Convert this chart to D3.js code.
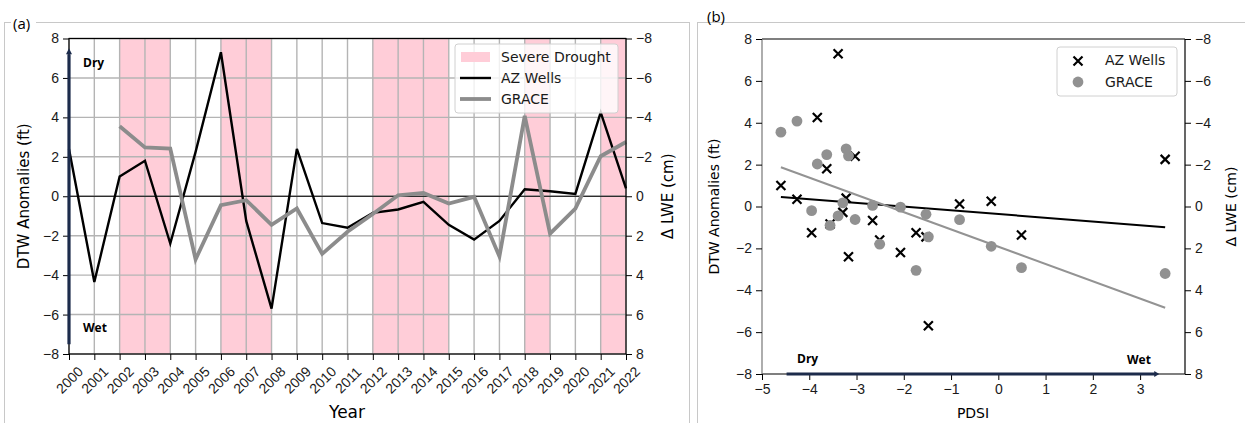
<!DOCTYPE html>
<html>
<head>
<meta charset="utf-8">
<script src="https://cdn.jsdelivr.net/npm/d3@7"></script>
<style>
  body { margin: 0; background: #fff; }
  svg { font-family: "DejaVu Sans", sans-serif; }
</style>
</head>
<body>
<svg id="chart" width="1245" height="423"></svg>
<script>
// values
let years = [2000, 2001, 2002, 2003, 2004, 2005, 2006, 2007, 2008, 2009, 2010, 2011,
  2012, 2013, 2014, 2015, 2016, 2017, 2018, 2019, 2020, 2021, 2022]
let wells = [2.4, -4.35, 1.0, 1.8, -2.4, 2.25, 7.3, -1.25, -5.7, 2.4, -1.36, -1.6,
  -0.84, -0.67, -0.28, -1.45, -2.2, -1.25, 0.35, 0.25, 0.12, 4.25, 0.4]
let grace = [null, null, -3.55, -2.48, -2.42, 3.2, 0.45, 0.2, 1.45, 0.62, 2.92, 1.8,
  0.9, -0.05, -0.17, 0.37, 0.03, 3.05, -4.08, 1.9, 0.63, -2.03, -2.75]
let pdsi = [null, null, -4.6, -3.63, -3.17, 3.53, -3.39, -3.95, -1.48, -3.03, 0.49, -2.51,
  -3.56, -2.66, -3.29, -1.53, -2.07, -1.74, -4.26, -0.15, -0.82, -3.83, -3.22]
let droughtYears = [2002, 2003, 2006, 2007, 2012, 2013, 2014, 2018, 2021]
let yTicks = [-8, -6, -4, -2, 0, 2, 4, 6, 8]
let pdsiTicks = [-5, -4, -3, -2, -1, 0, 1, 2, 3]

const navy = '#1c2b4b'
const grey = '#8c8c8c'
const svg = d3.select('#chart')

function styleAxis (g, size) {
  g.select('.domain').remove()
  g.selectAll('line').attr('stroke', '#000')
  g.selectAll('text').attr('font-size', size).attr('fill', '#1a1a1a')
}

function fit (xs, ys) {
  let mx = d3.mean(xs)
  let my = d3.mean(ys)
  let b = d3.sum(xs.map((x, i) => (x - mx) * (ys[i] - my))) / d3.sum(xs.map((x) => (x - mx) ** 2))
  return [b, my - b * mx]
}

// panel frames
svg.append('rect').attr('x', 4.5).attr('y', 22.5).attr('width', 685).attr('height', 420)
  .attr('fill', 'none').attr('stroke', '#c8c8c8')
svg.append('rect').attr('x', 697.5).attr('y', 22.5).attr('width', 560).attr('height', 420)
  .attr('fill', 'none').attr('stroke', '#c8c8c8')
svg.append('rect').attr('x', 11).attr('y', 15).attr('width', 25).attr('height', 16).attr('fill', '#fff')
svg.append('text').attr('x', 13).attr('y', 29).attr('font-family', 'Open Sans').attr('font-size', 15).text('(a)')
svg.append('text').attr('x', 707).attr('y', 22).attr('font-family', 'Open Sans').attr('font-size', 15).text('(b)')

// ---------- panel (a): time series ----------
const xA = d3.scaleLinear().domain([2000, 2022]).range([69, 626])
const yA = d3.scaleLinear().domain([-8, 8]).range([354, 38.5])
const yA2 = d3.scaleLinear().domain([-8, 8]).range([38.5, 354])

svg.append('g').selectAll('rect').data(droughtYears).join('rect')
  .attr('x', (d) => xA(d)).attr('width', (d) => xA(d + 1) - xA(d))
  .attr('y', yA(8)).attr('height', yA(-8) - yA(8))
  .attr('fill', '#ffcdd8')

let grid = svg.append('g').attr('stroke', '#b4b4b4').attr('stroke-width', 1.4)
grid.selectAll('.gx').data(years).join('line').attr('class', 'gx')
  .attr('x1', (d) => xA(d)).attr('x2', (d) => xA(d)).attr('y1', yA(8)).attr('y2', yA(-8))
grid.selectAll('.gy').data(yTicks).join('line').attr('class', 'gy')
  .attr('x1', xA(2000)).attr('x2', xA(2022)).attr('y1', (d) => yA(d)).attr('y2', (d) => yA(d))

svg.append('line').attr('x1', xA(2000)).attr('x2', xA(2022)).attr('y1', yA(0)).attr('y2', yA(0))
  .attr('stroke', '#000').attr('stroke-width', 1)

let wellLine = d3.line().x((d, i) => xA(years[i])).y((d) => yA(d))
svg.append('path').datum(wells).attr('d', wellLine)
  .attr('fill', 'none').attr('stroke', '#000').attr('stroke-width', 2.4).attr('stroke-linejoin', 'miter')

let graceLine = d3.line().defined((d) => d !== null).x((d, i) => xA(years[i])).y((d) => yA2(d))
svg.append('path').datum(grace).attr('d', graceLine)
  .attr('fill', 'none').attr('stroke', grey).attr('stroke-width', 3.8)

svg.append('rect').attr('x', xA(2000)).attr('y', yA(8)).attr('width', xA(2022) - xA(2000))
  .attr('height', yA(-8) - yA(8)).attr('fill', 'none').attr('stroke', '#000').attr('stroke-width', 1.2)

let axA = svg.append('g').attr('transform', `translate(${xA(2000)},0)`)
  .call(d3.axisLeft(yA).tickValues(yTicks).tickSize(6).tickPadding(4))
styleAxis(axA, 14)
let axA2 = svg.append('g').attr('transform', `translate(${xA(2022)},0)`)
  .call(d3.axisRight(yA2).tickValues(yTicks).tickSize(6).tickPadding(4))
styleAxis(axA2, 14)
let axAx = svg.append('g').attr('transform', `translate(0,${yA(-8)})`)
  .call(d3.axisBottom(xA).tickValues(years).tickFormat(d3.format('d')).tickSize(6))
styleAxis(axAx, 14)
axAx.selectAll('text').attr('y', 0).attr('dy', null).attr('text-anchor', 'middle')
  .attr('dominant-baseline', 'central').attr('transform', 'translate(0,26) rotate(-45)')

svg.append('text').attr('transform', `translate(24,${yA(0)}) rotate(-90)`)
  .attr('text-anchor', 'middle').attr('dominant-baseline', 'central').attr('font-size', 15)
  .text('DTW Anomalies (ft)')
svg.append('text').attr('transform', `translate(668,${yA(0)}) rotate(-90)`)
  .attr('text-anchor', 'middle').attr('dominant-baseline', 'central').attr('font-size', 15)
  .text('Δ LWE (cm)')
svg.append('text').attr('x', 347).attr('y', 412).attr('text-anchor', 'middle')
  .attr('dominant-baseline', 'central').attr('font-size', 17).text('Year')

// dry / wet arrow on the left axis
svg.append('line').attr('x1', xA(2000)).attr('x2', xA(2000)).attr('y1', yA(7.2)).attr('y2', yA(-7.5))
  .attr('stroke', navy).attr('stroke-width', 3.2)
svg.append('path').attr('d', `M${xA(2000) - 3},${yA(7.2)}L${xA(2000)},${yA(7.5)}L${xA(2000) + 3},${yA(7.2)}Z`)
  .attr('fill', navy)
svg.append('text').attr('x', 83).attr('y', 62).attr('dominant-baseline', 'central')
  .attr('font-family', 'Open Sans').attr('font-weight', 'bold').attr('font-size', 12).text('Dry')
svg.append('text').attr('x', 83).attr('y', 327).attr('dominant-baseline', 'central')
  .attr('font-family', 'Open Sans').attr('font-weight', 'bold').attr('font-size', 12).text('Wet')

// legend (a)
let legA = svg.append('g')
legA.append('rect').attr('x', 455).attr('y', 44).attr('width', 163).attr('height', 69).attr('rx', 3)
  .attr('fill', '#fff').attr('fill-opacity', 0.8).attr('stroke', '#d0d0d0')
legA.append('rect').attr('x', 461).attr('y', 52).attr('width', 29).attr('height', 10).attr('fill', '#ffcdd8')
legA.append('line').attr('x1', 460).attr('x2', 491).attr('y1', 78).attr('y2', 78).attr('stroke', '#000').attr('stroke-width', 2.4)
legA.append('line').attr('x1', 460).attr('x2', 491).attr('y1', 99).attr('y2', 99).attr('stroke', grey).attr('stroke-width', 3.8)
let legALabels = ['Severe Drought', 'AZ Wells', 'GRACE']
legA.selectAll('text').data(legALabels).join('text')
  .attr('x', 501).attr('y', (d, i) => 57 + i * 21).attr('dominant-baseline', 'central')
  .attr('font-size', 14).attr('fill', '#1a1a1a').text((d) => d)

// ---------- panel (b): scatter against PDSI ----------
const xB = d3.scaleLinear().domain([-5, 3.95]).range([762, 1185])
const yB = d3.scaleLinear().domain([-8, 8]).range([374, 39])
const yB2 = d3.scaleLinear().domain([-8, 8]).range([39, 374])

let pts = years.map((y, i) => ({ year: y, pdsi: pdsi[i], well: wells[i], grace: grace[i] }))
  .filter((d) => d.pdsi !== null)
let xExt = d3.extent(pts, (d) => d.pdsi)

// spines
svg.append('line').attr('x1', xB(-5)).attr('x2', xB(3.95)).attr('y1', yB(8)).attr('y2', yB(8)).attr('stroke', '#000').attr('stroke-width', 1.2)
svg.append('line').attr('x1', xB(-5)).attr('x2', xB(3.95)).attr('y1', yB(-8)).attr('y2', yB(-8)).attr('stroke', '#000').attr('stroke-width', 1.2)
svg.append('line').attr('x1', xB(-5)).attr('x2', xB(-5)).attr('y1', yB(8)).attr('y2', yB(-8)).attr('stroke', '#777').attr('stroke-width', 1.2)
svg.append('line').attr('x1', xB(3.95)).attr('x2', xB(3.95)).attr('y1', yB(8)).attr('y2', yB(-8)).attr('stroke', '#000').attr('stroke-width', 1.2)

// wells markers
svg.append('g').selectAll('path').data(pts).join('path')
  .attr('transform', (d) => `translate(${xB(d.pdsi)},${yB(d.well)})`)
  .attr('d', 'M-4.5,-4.5L4.5,4.5M-4.5,4.5L4.5,-4.5')
  .attr('stroke', '#000').attr('stroke-width', 2.2)

let fw = fit(pts.map((d) => d.pdsi), pts.map((d) => d.well))
svg.append('line').attr('x1', xB(xExt[0])).attr('x2', xB(xExt[1]))
  .attr('y1', yB(fw[0] * xExt[0] + fw[1])).attr('y2', yB(fw[0] * xExt[1] + fw[1]))
  .attr('stroke', '#000').attr('stroke-width', 2)

// grace markers on the twin (inverted) axis
svg.append('g').selectAll('circle').data(pts).join('circle')
  .attr('cx', (d) => xB(d.pdsi)).attr('cy', (d) => yB2(d.grace)).attr('r', 5.4)
  .attr('fill', '#919191')

let fg = fit(pts.map((d) => d.pdsi), pts.map((d) => d.grace))
svg.append('line').attr('x1', xB(xExt[0])).attr('x2', xB(xExt[1]))
  .attr('y1', yB2(fg[0] * xExt[0] + fg[1])).attr('y2', yB2(fg[0] * xExt[1] + fg[1]))
  .attr('stroke', '#939393').attr('stroke-width', 2)

let axB = svg.append('g').attr('transform', `translate(${xB(-5)},0)`)
  .call(d3.axisLeft(yB).tickValues(yTicks).tickSize(6).tickPadding(4))
styleAxis(axB, 14)
let axB2 = svg.append('g').attr('transform', `translate(${xB(3.95)},0)`)
  .call(d3.axisRight(yB2).tickValues(yTicks).tickSize(6).tickPadding(4))
styleAxis(axB2, 14)
let axBx = svg.append('g').attr('transform', `translate(0,${yB(-8)})`)
  .call(d3.axisBottom(xB).tickValues(pdsiTicks).tickSize(6).tickPadding(4))
styleAxis(axBx, 14)

svg.append('text').attr('transform', `translate(714,${yB(0)}) rotate(-90)`)
  .attr('text-anchor', 'middle').attr('dominant-baseline', 'central').attr('font-size', 14)
  .text('DTW Anomalies (ft)')
svg.append('text').attr('transform', `translate(1231,${yB(0)}) rotate(-90)`)
  .attr('text-anchor', 'middle').attr('dominant-baseline', 'central').attr('font-size', 14)
  .text('Δ LWE (cm)')
svg.append('text').attr('x', 973).attr('y', 413).attr('text-anchor', 'middle')
  .attr('dominant-baseline', 'central').attr('font-size', 14).text('PDSI')

// dry / wet arrow along the PDSI axis
svg.append('line').attr('x1', xB(-4.48)).attr('x2', xB(3.32)).attr('y1', yB(-8)).attr('y2', yB(-8))
  .attr('stroke', navy).attr('stroke-width', 3.2)
svg.append('path').attr('d', `M${xB(3.3)},${yB(-8) - 3}L${xB(3.3) + 5},${yB(-8)}L${xB(3.3)},${yB(-8) + 3}Z`)
  .attr('fill', navy)
svg.append('text').attr('x', 797).attr('y', 358).attr('dominant-baseline', 'central')
  .attr('font-family', 'Open Sans').attr('font-weight', 'bold').attr('font-size', 12).text('Dry')
svg.append('text').attr('x', 1127).attr('y', 359).attr('dominant-baseline', 'central')
  .attr('font-family', 'Open Sans').attr('font-weight', 'bold').attr('font-size', 12).text('Wet')

// legend (b)
let legB = svg.append('g')
legB.append('rect').attr('x', 1057).attr('y', 47).attr('width', 120).attr('height', 49).attr('rx', 3)
  .attr('fill', '#fff').attr('fill-opacity', 0.8).attr('stroke', '#d0d0d0')
legB.append('path').attr('transform', 'translate(1078,61)').attr('d', 'M-4.5,-4.5L4.5,4.5M-4.5,4.5L4.5,-4.5')
  .attr('stroke', '#000').attr('stroke-width', 2.2)
legB.append('circle').attr('cx', 1078).attr('cy', 82).attr('r', 5.4).attr('fill', '#919191')
let legBLabels = ['AZ Wells', 'GRACE']
legB.selectAll('text').data(legBLabels).join('text')
  .attr('x', 1105).attr('y', (d, i) => 60 + i * 22).attr('dominant-baseline', 'central')
  .attr('font-size', 14).attr('fill', '#1a1a1a').text((d) => d)
</script>
</body>
</html>
